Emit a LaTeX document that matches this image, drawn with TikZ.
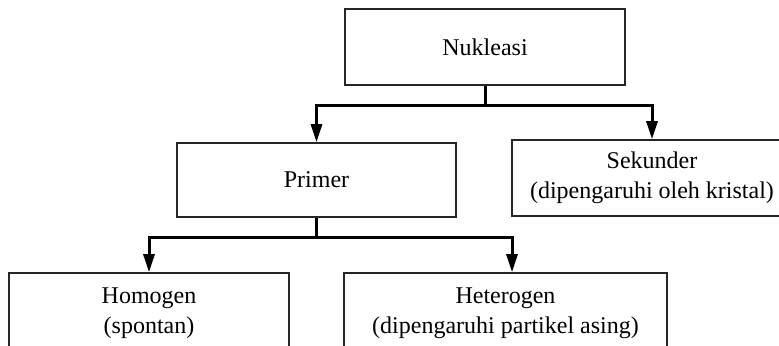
\documentclass[tikz,border=0pt]{standalone}
\usepackage{fontspec}
\setmainfont{Liberation Serif}
\usetikzlibrary{arrows.meta}
\tikzset{
  box/.style={draw=black!85, line width=0.8pt, minimum width=140pt, minimum height=38pt,
    inner sep=0pt, align=center, font=\fontsize{12pt}{15pt}\selectfont},
  conn/.style={line width=1.5pt, black},
  arr/.style={conn, -{Triangle[length=9pt,width=5.5pt]}}
}
\begin{document}
\begin{tikzpicture}[x=0.5pt,y=-0.5pt]
\useasboundingbox (0,0) rectangle (779,346);
\clip (0,0) rectangle (779,346);
\node[box] (nuk) at (485,47) {Nukleasi};
\node[box, minimum width=139.5pt, minimum height=37pt] (pri) at (316.5,180) {Primer};
\node[box] (sek) at (652,178) {Sekunder\\(dipengaruhi oleh kristal)};
\node[box, minimum height=40pt] (hom) at (149,313) {Homogen\\(spontan)};
\node[box, minimum width=161.5pt, minimum height=40pt] (het) at (505.5,313) {Heterogen\\(dipengaruhi partikel asing)};
\coordinate (j1) at ([yshift=-10pt]nuk.south);
\coordinate (j2) at ([yshift=-10pt]pri.south);
\coordinate (hetin) at ([xshift=3.25pt]het.north);
\draw[conn] (nuk.south) -- (j1);
\draw[arr] (j1) -| (pri.north);
\draw[arr] (j1) -| (sek.north);
\draw[conn] (pri.south) -- (j2);
\draw[arr] (j2) -| (hom.north);
\draw[arr] (j2) -| (hetin);
\end{tikzpicture}
\end{document}
